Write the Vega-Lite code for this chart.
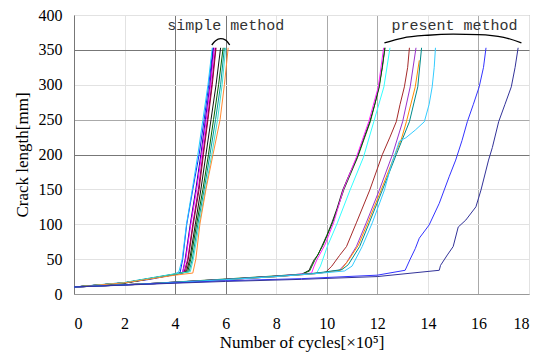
{
  "$schema": "https://vega.github.io/schema/vega-lite/v6.json",
  "width": 455,
  "height": 279,
  "autosize": "none",
  "padding": {"left": 74, "top": 15, "right": 10, "bottom": 60},
  "background": "white",
  "config": {
    "view": {"stroke": "#999", "strokeWidth": 1},
    "axis": {
      "labelFont": "Liberation Serif",
      "labelFontSize": 16,
      "labelColor": "#000",
      "titleFont": "Liberation Serif",
      "titleFontSize": 17,
      "titleFontWeight": "normal",
      "titleColor": "#000",
      "ticks": false,
      "domainColor": "#999",
      "gridOpacity": 1,
      "labelOverlap": false
    }
  },
  "datasets": {
    "curves": [
      {"series":"S1","x":0,"y":10},{"series":"S1","x":1,"y":12.5},{"series":"S1","x":2,"y":16},{"series":"S1","x":3,"y":21},{"series":"S1","x":4,"y":28},{"series":"S1","x":4.2,"y":31},{"series":"S1","x":4.3,"y":50},{"series":"S1","x":4.46,"y":100},{"series":"S1","x":4.7,"y":150},{"series":"S1","x":4.95,"y":200},{"series":"S1","x":5.15,"y":250},{"series":"S1","x":5.33,"y":300},{"series":"S1","x":5.5,"y":353},
      {"series":"S2","x":0,"y":10},{"series":"S2","x":2,"y":16.5},{"series":"S2","x":4,"y":29},{"series":"S2","x":4.15,"y":32},{"series":"S2","x":4.28,"y":50},{"series":"S2","x":4.45,"y":100},{"series":"S2","x":4.68,"y":150},{"series":"S2","x":4.9,"y":200},{"series":"S2","x":5.1,"y":250},{"series":"S2","x":5.3,"y":300},{"series":"S2","x":5.47,"y":353},
      {"series":"S3","x":0,"y":10},{"series":"S3","x":2,"y":16},{"series":"S3","x":4,"y":28},{"series":"S3","x":4.3,"y":31},{"series":"S3","x":4.4,"y":50},{"series":"S3","x":4.6,"y":100},{"series":"S3","x":4.82,"y":150},{"series":"S3","x":5.02,"y":200},{"series":"S3","x":5.2,"y":250},{"series":"S3","x":5.38,"y":300},{"series":"S3","x":5.52,"y":353},
      {"series":"S4","x":0,"y":10},{"series":"S4","x":2,"y":16},{"series":"S4","x":4,"y":28},{"series":"S4","x":4.3,"y":31},{"series":"S4","x":4.42,"y":50},{"series":"S4","x":4.62,"y":100},{"series":"S4","x":4.85,"y":150},{"series":"S4","x":5.05,"y":200},{"series":"S4","x":5.23,"y":250},{"series":"S4","x":5.4,"y":300},{"series":"S4","x":5.55,"y":353},
      {"series":"S5","x":0,"y":10},{"series":"S5","x":2,"y":16},{"series":"S5","x":4,"y":28.5},{"series":"S5","x":4.35,"y":31},{"series":"S5","x":4.5,"y":50},{"series":"S5","x":4.7,"y":100},{"series":"S5","x":4.92,"y":150},{"series":"S5","x":5.1,"y":200},{"series":"S5","x":5.28,"y":250},{"series":"S5","x":5.45,"y":300},{"series":"S5","x":5.6,"y":353},
      {"series":"S6","x":0,"y":10},{"series":"S6","x":2,"y":16},{"series":"S6","x":4,"y":28},{"series":"S6","x":4.4,"y":31},{"series":"S6","x":4.52,"y":50},{"series":"S6","x":4.72,"y":100},{"series":"S6","x":4.95,"y":150},{"series":"S6","x":5.12,"y":200},{"series":"S6","x":5.3,"y":250},{"series":"S6","x":5.47,"y":300},{"series":"S6","x":5.62,"y":353},
      {"series":"S7","x":0,"y":10},{"series":"S7","x":2,"y":15.5},{"series":"S7","x":4,"y":28},{"series":"S7","x":4.45,"y":32},{"series":"S7","x":4.58,"y":50},{"series":"S7","x":4.8,"y":100},{"series":"S7","x":5.02,"y":150},{"series":"S7","x":5.22,"y":200},{"series":"S7","x":5.42,"y":250},{"series":"S7","x":5.62,"y":300},{"series":"S7","x":5.8,"y":353},
      {"series":"S8","x":0,"y":10},{"series":"S8","x":2,"y":16},{"series":"S8","x":4,"y":28.5},{"series":"S8","x":4.5,"y":32},{"series":"S8","x":4.62,"y":50},{"series":"S8","x":4.85,"y":100},{"series":"S8","x":5.1,"y":150},{"series":"S8","x":5.32,"y":200},{"series":"S8","x":5.52,"y":250},{"series":"S8","x":5.72,"y":300},{"series":"S8","x":5.9,"y":353},
      {"series":"S9","x":0,"y":10},{"series":"S9","x":2,"y":16},{"series":"S9","x":4,"y":28},{"series":"S9","x":4.55,"y":32},{"series":"S9","x":4.68,"y":50},{"series":"S9","x":4.9,"y":100},{"series":"S9","x":5.15,"y":150},{"series":"S9","x":5.38,"y":200},{"series":"S9","x":5.6,"y":250},{"series":"S9","x":5.8,"y":300},{"series":"S9","x":5.95,"y":353},
      {"series":"S10","x":0,"y":10},{"series":"S10","x":2,"y":16.5},{"series":"S10","x":4,"y":29},{"series":"S10","x":4.6,"y":32},{"series":"S10","x":4.72,"y":50},{"series":"S10","x":4.95,"y":100},{"series":"S10","x":5.2,"y":150},{"series":"S10","x":5.45,"y":200},{"series":"S10","x":5.68,"y":250},{"series":"S10","x":5.86,"y":300},{"series":"S10","x":6.0,"y":353},
      {"series":"S11","x":0,"y":10},{"series":"S11","x":2,"y":16},{"series":"S11","x":4,"y":27},{"series":"S11","x":4.7,"y":30},{"series":"S11","x":4.82,"y":50},{"series":"S11","x":4.98,"y":100},{"series":"S11","x":5.22,"y":150},{"series":"S11","x":5.5,"y":200},{"series":"S11","x":5.78,"y":250},{"series":"S11","x":5.95,"y":300},{"series":"S11","x":6.1,"y":353},

      {"series":"P1","x":0,"y":10},{"series":"P1","x":3,"y":15},{"series":"P1","x":6,"y":21},{"series":"P1","x":8,"y":25.5},{"series":"P1","x":9,"y":28},{"series":"P1","x":9.3,"y":34},{"series":"P1","x":9.4,"y":42},{"series":"P1","x":9.5,"y":49},{"series":"P1","x":9.65,"y":56},{"series":"P1","x":9.8,"y":68},{"series":"P1","x":10.0,"y":84},{"series":"P1","x":10.2,"y":102},{"series":"P1","x":10.4,"y":122},{"series":"P1","x":10.63,"y":149},{"series":"P1","x":10.9,"y":172},{"series":"P1","x":11.2,"y":196},{"series":"P1","x":11.45,"y":222},{"series":"P1","x":11.7,"y":247},{"series":"P1","x":11.9,"y":272},{"series":"P1","x":12.06,"y":297},{"series":"P1","x":12.2,"y":325},{"series":"P1","x":12.3,"y":353},
      {"series":"P2","x":0,"y":10},{"series":"P2","x":3,"y":15},{"series":"P2","x":6,"y":21.5},{"series":"P2","x":8,"y":26},{"series":"P2","x":9,"y":28.5},{"series":"P2","x":9.32,"y":33},{"series":"P2","x":9.52,"y":48},{"series":"P2","x":9.85,"y":70},{"series":"P2","x":10.25,"y":104},{"series":"P2","x":10.68,"y":150},{"series":"P2","x":11.22,"y":196},{"series":"P2","x":11.72,"y":247},{"series":"P2","x":12.08,"y":297},{"series":"P2","x":12.3,"y":353},
      {"series":"P3","x":0,"y":10},{"series":"P3","x":3,"y":15},{"series":"P3","x":6,"y":21},{"series":"P3","x":8,"y":25.5},{"series":"P3","x":9.4,"y":30},{"series":"P3","x":9.5,"y":40},{"series":"P3","x":9.62,"y":50},{"series":"P3","x":9.92,"y":70},{"series":"P3","x":10.27,"y":102},{"series":"P3","x":10.66,"y":150},{"series":"P3","x":11.17,"y":196},{"series":"P3","x":11.66,"y":247},{"series":"P3","x":12.04,"y":297},{"series":"P3","x":12.25,"y":353},
      {"series":"P4","x":0,"y":10},{"series":"P4","x":3,"y":14.5},{"series":"P4","x":6,"y":20.5},{"series":"P4","x":8,"y":25},{"series":"P4","x":9.6,"y":30},{"series":"P4","x":9.75,"y":40},{"series":"P4","x":10.02,"y":68},{"series":"P4","x":10.42,"y":102},{"series":"P4","x":10.92,"y":149},{"series":"P4","x":11.45,"y":196},{"series":"P4","x":11.86,"y":247},{"series":"P4","x":12.26,"y":297},{"series":"P4","x":12.5,"y":353},
      {"series":"P5","x":0,"y":10},{"series":"P5","x":3,"y":14.5},{"series":"P5","x":6,"y":20.5},{"series":"P5","x":8,"y":25},{"series":"P5","x":9.95,"y":31},{"series":"P5","x":10.2,"y":40},{"series":"P5","x":10.5,"y":55},{"series":"P5","x":10.78,"y":68},{"series":"P5","x":11.17,"y":102},{"series":"P5","x":11.7,"y":149},{"series":"P5","x":12.2,"y":200},{"series":"P5","x":12.5,"y":225},{"series":"P5","x":12.75,"y":247},{"series":"P5","x":12.9,"y":272},{"series":"P5","x":13.07,"y":297},{"series":"P5","x":13.2,"y":325},{"series":"P5","x":13.27,"y":353},
      {"series":"P6","x":0,"y":10},{"series":"P6","x":3,"y":14.5},{"series":"P6","x":6,"y":20.5},{"series":"P6","x":8,"y":25},{"series":"P6","x":9.5,"y":29},{"series":"P6","x":10.5,"y":34},{"series":"P6","x":10.78,"y":45},{"series":"P6","x":11.17,"y":68},{"series":"P6","x":11.56,"y":102},{"series":"P6","x":12.08,"y":149},{"series":"P6","x":12.6,"y":200},{"series":"P6","x":13.0,"y":247},{"series":"P6","x":13.3,"y":297},{"series":"P6","x":13.53,"y":353},
      {"series":"P7","x":0,"y":10},{"series":"P7","x":3,"y":14.5},{"series":"P7","x":6,"y":20.5},{"series":"P7","x":8,"y":25},{"series":"P7","x":9.5,"y":29},{"series":"P7","x":10.55,"y":34},{"series":"P7","x":10.85,"y":48},{"series":"P7","x":11.25,"y":70},{"series":"P7","x":11.62,"y":102},{"series":"P7","x":12.15,"y":149},{"series":"P7","x":12.7,"y":200},{"series":"P7","x":12.95,"y":222},{"series":"P7","x":13.15,"y":247},{"series":"P7","x":13.5,"y":297},{"series":"P7","x":13.66,"y":335},
      {"series":"P8","x":0,"y":10},{"series":"P8","x":3,"y":15},{"series":"P8","x":6,"y":21},{"series":"P8","x":8,"y":25.5},{"series":"P8","x":9.5,"y":29.5},{"series":"P8","x":10.6,"y":35},{"series":"P8","x":10.85,"y":42},{"series":"P8","x":11.3,"y":68},{"series":"P8","x":11.68,"y":102},{"series":"P8","x":12.2,"y":149},{"series":"P8","x":12.75,"y":200},{"series":"P8","x":13.27,"y":247},{"series":"P8","x":13.6,"y":297},{"series":"P8","x":13.75,"y":353},
      {"series":"P9","x":0,"y":10},{"series":"P9","x":3,"y":14.5},{"series":"P9","x":6,"y":20.5},{"series":"P9","x":8,"y":25},{"series":"P9","x":9.5,"y":29},{"series":"P9","x":10.7,"y":33},{"series":"P9","x":11.0,"y":40},{"series":"P9","x":11.4,"y":68},{"series":"P9","x":11.8,"y":102},{"series":"P9","x":12.28,"y":149},{"series":"P9","x":12.55,"y":185},{"series":"P9","x":12.75,"y":206},{"series":"P9","x":12.87,"y":219},{"series":"P9","x":13.13,"y":224},{"series":"P9","x":13.5,"y":235},{"series":"P9","x":13.86,"y":247},{"series":"P9","x":14.05,"y":272},{"series":"P9","x":14.17,"y":297},{"series":"P9","x":14.25,"y":325},{"series":"P9","x":14.3,"y":353},
      {"series":"P10","x":0,"y":10},{"series":"P10","x":4,"y":16},{"series":"P10","x":6,"y":19},{"series":"P10","x":9,"y":22},{"series":"P10","x":12,"y":27},{"series":"P10","x":13.1,"y":34},{"series":"P10","x":13.3,"y":50},{"series":"P10","x":13.5,"y":65},{"series":"P10","x":13.66,"y":80},{"series":"P10","x":14.05,"y":99},{"series":"P10","x":14.45,"y":130},{"series":"P10","x":14.84,"y":168},{"series":"P10","x":15.1,"y":192},{"series":"P10","x":15.35,"y":220},{"series":"P10","x":15.56,"y":247},{"series":"P10","x":15.8,"y":272},{"series":"P10","x":16.03,"y":297},{"series":"P10","x":16.2,"y":325},{"series":"P10","x":16.3,"y":353},
      {"series":"P11","x":0,"y":10},{"series":"P11","x":4,"y":15.5},{"series":"P11","x":6,"y":18},{"series":"P11","x":9,"y":21},{"series":"P11","x":12,"y":25},{"series":"P11","x":14.45,"y":34},{"series":"P11","x":14.5,"y":41},{"series":"P11","x":14.77,"y":56},{"series":"P11","x":15.0,"y":68},{"series":"P11","x":15.2,"y":96},{"series":"P11","x":15.5,"y":106},{"series":"P11","x":15.9,"y":125},{"series":"P11","x":16.1,"y":149},{"series":"P11","x":16.4,"y":192},{"series":"P11","x":16.55,"y":210},{"series":"P11","x":16.8,"y":247},{"series":"P11","x":17.05,"y":272},{"series":"P11","x":17.3,"y":297},{"series":"P11","x":17.45,"y":325},{"series":"P11","x":17.57,"y":353}
    ],
    "braces": [
      {"b":"simple","x":5.45,"y":357},{"b":"simple","x":5.6,"y":363},{"b":"simple","x":5.8,"y":366},{"b":"simple","x":6.0,"y":364},{"b":"simple","x":6.16,"y":357},
      {"b":"present","x":12.28,"y":360},{"b":"present","x":13.0,"y":367},{"b":"present","x":14.0,"y":371},{"b":"present","x":15.0,"y":372.5},{"b":"present","x":16.0,"y":372},{"b":"present","x":17.0,"y":368},{"b":"present","x":17.7,"y":360}
    ],
    "labels": [
      {"label":"simple method","x":6.0,"y":386},
      {"label":"present method","x":15.05,"y":386}
    ]
  },
  "encoding": {
    "x": {
      "field": "x", "type": "quantitative",
      "scale": {"domain": [0, 18], "nice": false},
      "axis": {
        "values": [0, 2, 4, 6, 8, 10, 12, 14, 16, 18],
        "title": "Number of cycles[×10⁵]",
        "labelPadding": 21,
        "titlePadding": 3,
        "grid": true,
        "gridColor": {"condition": [{"test": "datum.value === 4 || datum.value === 6", "value": "#777"}, {"test": "datum.value === 10 || datum.value === 12 || datum.value === 16", "value": "#aaa"}], "value": "#e2e2e2"}
      }
    },
    "y": {
      "field": "y", "type": "quantitative",
      "scale": {"domain": [0, 400], "nice": false},
      "axis": {
        "values": [0, 50, 100, 150, 200, 250, 300, 350, 400],
        "title": "Crack length[mm]",
        "labelPadding": 12,
        "titlePadding": 7,
        "domainColor": "#777",
        "grid": true,
        "gridColor": {"condition": [{"test": "datum.value === 350 || datum.value === 200", "value": "#777"}, {"test": "datum.value === 250", "value": "#aaa"}], "value": "#e2e2e2"}
      }
    }
  },
  "layer": [
    {
      "data": {"name": "curves"},
      "mark": {"type": "line", "strokeWidth": 1, "interpolate": "linear"},
      "encoding": {
        "color": {
          "field": "series", "type": "nominal", "legend": null,
          "scale": {
            "domain": ["S1","S2","S3","S4","S5","S6","S7","S8","S9","S10","S11","P1","P2","P3","P4","P5","P6","P7","P8","P9","P10","P11"],
            "range": ["#1a1aff","#22ccff","#000080","#ff00ff","#800080","#990033","#111111","#006400","#009999","#40e0d0","#ff8c33","#222222","#006400","#ff22ff","#33ffff","#a52a2a","#9932cc","#ff8c00","#008b8b","#33ccff","#3333ff","#333399"]
          }
        }
      }
    },
    {
      "data": {"name": "braces"},
      "mark": {"type": "line", "color": "#000", "strokeWidth": 1.3, "interpolate": "monotone"},
      "encoding": {
        "detail": {"field": "b"}
      }
    },
    {
      "data": {"name": "labels"},
      "mark": {"type": "text", "font": "Liberation Mono", "fontSize": 15, "color": "#333", "align": "center", "baseline": "middle"},
      "encoding": {
        "text": {"field": "label"}
      }
    }
  ]
}
